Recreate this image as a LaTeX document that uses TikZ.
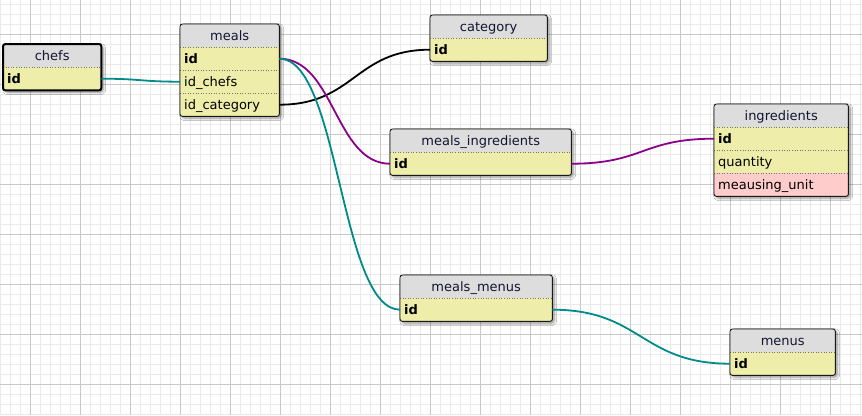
\documentclass[tikz,border=0pt]{standalone}
\usepackage{fontspec}
\setmainfont{DejaVu Sans}
\usetikzlibrary{calc,shadows.blur}
\definecolor{rowyel}{RGB}{238,238,170}
\definecolor{rowpink}{RGB}{255,204,204}
\definecolor{hdrgray}{RGB}{221,221,221}
\definecolor{minorgrid}{RGB}{234,234,234}
\definecolor{majorgrid}{RGB}{200,200,200}
\definecolor{lnteal}{RGB}{0,139,139}
\definecolor{lnpurple}{RGB}{139,0,139}
\definecolor{hdrtext}{RGB}{20,20,50}
\tikzset{
  tabshadow/.style={draw=none, fill=rowyel, rectangle, rounded corners=2.5pt, inner sep=0pt,
    blur shadow={shadow xshift=2pt, shadow yshift=-2pt, shadow blur steps=6, shadow opacity=45, shadow blur radius=2.5pt}},
  cell/.style={rectangle, inner xsep=4pt, inner ysep=0pt, minimum height=23pt,
    text height=11pt, text depth=1pt, font=\fontsize{13}{15}\selectfont},
  hdr/.style={cell, fill=hdrgray, text=hdrtext, align=center},
  plainrow/.style={fill=rowyel},
  pinkrow/.style={fill=rowpink},
  sep/.style={draw=black!55, dotted, line width=0.6pt},
  border/.style={draw=black!90, line width=0.9pt, rounded corners=2.5pt},
  selborder/.style={draw=black, line width=2pt, rounded corners=2.5pt},
  link/.style={line width=1.8pt},
}
% #1 name, #2 x, #3 y, #4 width, #5 number of rows, #6 title, #7 rows key/text/style, #8 border style
\newcommand\dbtable[8]{%
  \pgfmathsetmacro\tabh{23*(#5+1)}%
  \pgfmathsetmacro\tabtw{#4-8}%
  \node[tabshadow, minimum width=#4pt, minimum height=\tabh pt, anchor=north west] (#1) at (#2,#3) {};
  \begin{scope}
    \clip[rounded corners=2.5pt] (#1.north west) rectangle (#1.south east);
    \node[hdr, text width=\tabtw pt, anchor=north west] (#1-title) at (#1.north west) {#6};
    \foreach \k/\t/\s [count=\i] in {#7} {
      \node[cell, \s, text width=\tabtw pt, align=left, anchor=north west] (#1-\k) at ($(#1.north west)+(0,23*\i)$) {\t};
      \draw[sep] (#1-\k.north west) -- (#1-\k.north east);
    }
  \end{scope}
  \path[#8] (#1.north west) rectangle (#1.south east);
}
\begin{document}
\begin{tikzpicture}[x=1pt,y=-1pt]
\useasboundingbox (0,0) rectangle (862,415);
\fill[white] (0,0) rectangle (862,415);
% grid
\foreach \gx in {0,10,...,860} \draw[minorgrid, line width=1pt] (\gx,0) -- (\gx,415);
\foreach \gy in {4,14,...,414} \draw[minorgrid, line width=1pt] (0,\gy) -- (862,\gy);
\foreach \gx in {30,80,...,830} \draw[majorgrid, line width=1pt] (\gx,0) -- (\gx,415);
\foreach \gy in {34,84,...,384} \draw[majorgrid, line width=1pt] (0,\gy) -- (862,\gy);

% tables
\dbtable{chefs}{3}{44}{98}{1}{chefs}{id/\textbf{id}/plainrow}{selborder}
\dbtable{meals}{180}{24}{99}{3}{meals}{id/\textbf{id}/plainrow, idchefs/id\_chefs/plainrow, idcat/id\_category/plainrow}{border}
\dbtable{category}{430}{15}{117}{1}{category}{id/\textbf{id}/plainrow}{border}
\dbtable{mi}{390}{129}{181}{1}{meals\_ingredients}{id/\textbf{id}/plainrow}{border}
\dbtable{ingredients}{714}{104}{134}{3}{ingredients}{id/\textbf{id}/plainrow, qty/quantity/plainrow, unit/meausing\_unit/pinkrow}{border}
\dbtable{mm}{400}{275}{152}{1}{meals\_menus}{id/\textbf{id}/plainrow}{border}
\dbtable{menus}{730}{329}{105}{1}{menus}{id/\textbf{id}/plainrow}{border}

% connectors
\draw[link, lnteal] (chefs-id.east) .. controls +(39,0) and +(-39,0) .. (meals-idchefs.west);
\draw[link, black] (meals-idcat.east) .. controls +(75,0) and +(-75,0) .. (category-id.west);
\draw[link, lnpurple] (meals-id.east) .. controls +(55,0) and +(-55,0) .. (mi-id.west);
\draw[link, lnteal] (meals-id.east) .. controls +(60,0) and +(-60,0) .. (mm-id.west);
\draw[link, lnpurple] (mi-id.east) .. controls +(72,0) and +(-72,0) .. (ingredients-id.west);
\draw[link, lnteal] (mm-id.east) .. controls +(89,0) and +(-89,0) .. (menus-id.west);
\end{tikzpicture}
\end{document}
